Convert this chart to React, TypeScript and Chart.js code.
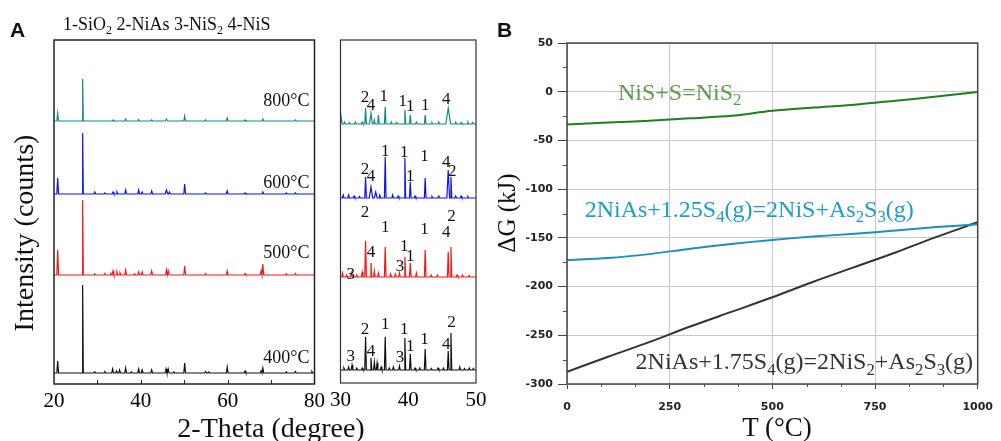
import React, { useEffect, useRef } from "react";
import { Chart, registerables } from "chart.js";

Chart.register(...registerables);

const SERIF = "'Liberation Serif', 'Times New Roman', serif";
const SANS = "'Liberation Sans', Arial, sans-serif";
const TICKFONT = "'DejaVu Sans', Verdana, sans-serif";

// ---------------- Panel A: XRD patterns (2-theta, relative intensity) ----------------
const xrdTemps = ["400°C", "500°C", "600°C", "800°C"];
const xrdColors = ["#111111", "#f01818", "#1010f0", "#168a82"];
// vertical stacking offsets of the patterns (main panel)
const xrdOffsets = [11, 109, 190, 263];
// [2-theta, intensity, half-width?]
const peaks400: number[][] = [
  [20.85, 12], [26.6, 88, 0.15], [29.4, 1], [31.7, 1.5], [33.5, 4], [34.4, 2], [35.1, 3], [36.5, 5],
  [37.8, 1], [39.5, 4], [40.3, 3], [42.5, 3], [45.8, 4], [46.3, 4], [47.6, 1], [50.1, 10],
  [54.9, 1.5], [55.6, 1], [59.9, 6], [64.0, 2], [67.7, 2], [68.1, 5], [73.5, 1], [75.6, 1.5], [79.4, 1.5],
];
const peaks500: number[][] = [
  [20.85, 25], [26.6, 75, 0.15], [29.4, 1], [31.7, 1.5], [33.1, 1.5], [33.6, 4], [34.5, 3], [35.2, 2],
  [36.5, 5], [38.6, 1], [39.5, 3], [40.3, 3], [42.5, 4], [45.9, 5], [46.3, 4], [50.1, 9],
  [54.9, 1.5], [59.9, 4], [64.0, 1.5], [67.7, 4], [68.1, 11], [73.5, 1], [75.6, 1.5],
];
const peaks600: number[][] = [
  [20.85, 16], [26.6, 61, 0.15], [29.4, 2], [31.7, 1], [33.6, 2], [34.5, 2], [36.5, 4], [39.5, 4],
  [40.3, 2], [42.5, 3], [45.9, 4, 0.3], [46.6, 2], [50.1, 10], [54.9, 1], [59.9, 3], [64.0, 1],
  [68.1, 2], [73.5, 1], [75.6, 1],
];
const peaks800: number[][] = [
  [20.85, 8], [26.6, 42, 0.15], [33.6, 1], [36.5, 2], [39.5, 1.5], [42.5, 1], [45.9, 2, 0.3],
  [50.1, 5], [54.9, 1], [59.9, 3], [64.0, 1], [68.1, 2], [75.6, 1],
];
const mainPeaks = [peaks400, peaks500, peaks600, peaks800];

// ---------------- Panel A inset (30-50 degrees) ----------------
const insetOffsets = [13, 106, 185, 259];
const inset400: number[][] = [
  [30.5, 2], [31.2, 3], [31.7, 5], [32.4, 2], [33.2, 2], [33.7, 33], [34.5, 12], [35.0, 8], [35.4, 7],
  [36.0, 3], [36.6, 33], [37.2, 2], [37.8, 3], [38.7, 4], [39.5, 32], [40.3, 16], [41.0, 2], [41.7, 2],
  [42.5, 21], [43.4, 1.5], [44.4, 2], [45.2, 2], [45.9, 19], [46.3, 37], [47.6, 3], [48.3, 1.5], [49.0, 2], [49.6, 1.5],
];
const inset500: number[][] = [
  [30.3, 4], [30.9, 2], [31.6, 4], [32.4, 2], [33.2, 5], [33.7, 36], [34.5, 14], [35.0, 6], [35.6, 4],
  [36.6, 30], [37.4, 3], [38.1, 3], [38.7, 4], [39.5, 20], [40.3, 14], [41.2, 4], [42.5, 27], [43.4, 2],
  [44.3, 2], [45.9, 25], [46.3, 30], [47.2, 2], [48.0, 2], [49.0, 1.5],
];
const inset600: number[][] = [
  [30.4, 3], [31.2, 3], [32.0, 2], [32.8, 1.5], [33.7, 21], [34.5, 11, 0.25], [35.2, 6, 0.2], [35.8, 3],
  [36.6, 41], [37.7, 3], [38.5, 2], [39.5, 40], [40.3, 16], [41.0, 2], [42.5, 20], [43.5, 1.5], [44.5, 2],
  [45.9, 28, 0.2], [46.3, 21], [47.0, 2], [47.8, 2], [48.8, 1.5],
];
const inset800: number[][] = [
  [30.1, 7, 0.15], [30.6, 2], [31.3, 1.5], [32.2, 2], [33.2, 2], [33.7, 16], [34.5, 11, 0.2], [35.0, 4],
  [35.6, 9], [36.6, 17], [37.5, 2], [38.3, 1.5], [39.5, 14], [40.3, 9], [41.2, 2], [42.5, 9], [43.5, 1.5],
  [44.5, 2], [45.9, 16, 0.35], [47.0, 2], [47.8, 1.5], [48.8, 2], [49.5, 1.5],
];
const insetPeaks = [inset400, inset500, inset600, inset800];

// phase index labels above the inset peaks: [label, 2-theta, level]
const phaseLabels400: (string | number)[][] = [
  ["3", 31.5, 26], ["2", 33.6, 53], ["4", 34.5, 31], ["1", 36.6, 58], ["3", 38.8, 25],
  ["1", 39.4, 53], ["1", 40.3, 36], ["1", 42.4, 43], ["4", 45.6, 38], ["2", 46.4, 60],
];
const phaseLabels500: (string | number)[][] = [
  ["3", 31.5, 108], ["2", 33.6, 170], ["4", 34.5, 130], ["1", 36.6, 155], ["3", 38.8, 116],
  ["1", 39.4, 136], ["1", 40.3, 126], ["1", 42.4, 153], ["4", 45.6, 150], ["2", 46.4, 166],
];
const phaseLabels600: (string | number)[][] = [
  ["2", 33.6, 213], ["4", 34.5, 206], ["1", 36.6, 231], ["1", 39.4, 230], ["1", 40.3, 206],
  ["1", 42.4, 226], ["4", 45.6, 220], ["2", 46.5, 211],
];
const phaseLabels800: (string | number)[][] = [
  ["2", 33.6, 285], ["4", 34.5, 277], ["1", 36.4, 286], ["1", 39.2, 281], ["1", 40.3, 276],
  ["1", 42.5, 277], ["4", 45.6, 283],
];
const phaseLabels = [phaseLabels400, phaseLabels500, phaseLabels600, phaseLabels800];
const tempLabelLevels = [26, 131, 201, 283];

// ---------------- Panel B: Delta G vs T ----------------
const tempsB = [0, 100, 200, 300, 400, 500, 600, 700, 800, 900, 1000];
const dgNiS2 = [-33.6, -31.6, -29.8, -27.3, -24.7, -19.6, -16.3, -13.3, -9.2, -5.0, -0.3];
const dgNiS = [-172.9, -170.8, -166.7, -161.1, -156.3, -152.1, -148.6, -145.8, -142.4, -138.9, -136.1];
const dgNiAsToNiS2 = [-287.5, -272, -257, -241, -226, -211, -195, -180, -165, -149, -134];
const reactionNames = ["NiS+S=NiS_2", "2NiAs+1.25S_4(g)=2NiS+As_2S_3(g)", "2NiAs+1.75S_4(g)=2NiS_2+As_2S_3(g)"];
const reactionLineColors = ["#1f7f1f", "#1a8fc4", "#333333"];
const reactionTextColors = ["#5e9a4a", "#1c9cc8", "#333333"];
const reactionAnchorT = [124, 43, 167];
const reactionAnchorG = [-8.5, -128.6, -284.9];

function trace(peaks: number[][], base: number, lo: number, hi: number, w: number) {
  const pts: { x: number; y: number }[] = [{ x: lo, y: base }];
  const sorted = [...peaks].sort((a, b) => a[0] - b[0]);
  for (const pk of sorted) {
    const ww = pk[2] ?? w;
    pts.push({ x: pk[0] - ww, y: base }, { x: pk[0], y: base + pk[1] }, { x: pk[0] + ww, y: base });
  }
  pts.push({ x: hi, y: base });
  return pts;
}

function drawRich(ctx: CanvasRenderingContext2D, text: string, x: number, y: number, size: number, color: string) {
  const parts = text.split(/(_\d)/).filter(Boolean);
  ctx.save();
  ctx.fillStyle = color;
  ctx.textBaseline = "alphabetic";
  ctx.textAlign = "left";
  let cx = x;
  for (const part of parts) {
    const sub = part.startsWith("_");
    const t = sub ? part.slice(1) : part;
    const fs = sub ? size * 0.7 : size;
    ctx.font = `${fs}px ${SERIF}`;
    ctx.fillText(t, cx, y + (sub ? size * 0.22 : 0));
    cx += ctx.measureText(t).width;
  }
  ctx.restore();
}

const frame = (color: string, width: number) => ({
  id: "frame",
  afterDraw(chart: any) {
    const { ctx, chartArea: a } = chart;
    ctx.save();
    ctx.strokeStyle = color;
    ctx.lineWidth = width;
    ctx.strokeRect(a.left, a.top, a.right - a.left, a.bottom - a.top);
    ctx.restore();
  },
});

const mainAPlugin = {
  id: "mainA",
  afterDraw(chart: any) {
    const { ctx, chartArea: a } = chart;
    const xs = chart.scales.x;
    const ys = chart.scales.y;
    ctx.save();
    ctx.strokeStyle = "#222";
    ctx.lineWidth = 1;
    for (let v = 30; v <= 70; v += 10) {
      const px = Math.round(xs.getPixelForValue(v)) + 0.5;
      ctx.beginPath();
      ctx.moveTo(px, a.bottom);
      ctx.lineTo(px, a.bottom - 4);
      ctx.stroke();
    }
    ctx.fillStyle = "#111";
    ctx.font = `18px ${SERIF}`;
    ctx.textAlign = "right";
    ctx.textBaseline = "middle";
    xrdTemps.forEach((t, i) => {
      ctx.fillText(t, xs.getPixelForValue(78.85), ys.getPixelForValue(tempLabelLevels[i]));
    });
    ctx.restore();
  },
};

const insetPlugin = {
  id: "insetA",
  afterDraw(chart: any) {
    const { ctx } = chart;
    const xs = chart.scales.x;
    const ys = chart.scales.y;
    ctx.save();
    ctx.fillStyle = "#111";
    ctx.font = `17px ${SERIF}`;
    ctx.textAlign = "center";
    ctx.textBaseline = "middle";
    phaseLabels.forEach((list) => {
      list.forEach((l) => {
        ctx.fillText(String(l[0]), xs.getPixelForValue(l[1] as number), ys.getPixelForValue(l[2] as number));
      });
    });
    ctx.restore();
  },
};

const bPlugin = {
  id: "panelB",
  afterDraw(chart: any) {
    const { ctx, chartArea: a } = chart;
    const xs = chart.scales.x;
    const ys = chart.scales.y;
    ctx.save();
    ctx.strokeStyle = "#555";
    ctx.lineWidth = 1;
    for (let v = -275; v < 50; v += 50) {
      const py = Math.round(ys.getPixelForValue(v)) + 0.5;
      ctx.beginPath();
      ctx.moveTo(a.left, py);
      ctx.lineTo(a.left - 4, py);
      ctx.stroke();
    }
    for (let k = 1; k < 12; k++) {
      if (k % 3 === 0) continue;
      const px = Math.round(xs.getPixelForValue((k * 1000) / 12)) + 0.5;
      ctx.beginPath();
      ctx.moveTo(px, a.bottom);
      ctx.lineTo(px, a.bottom + 3);
      ctx.stroke();
    }
    ctx.strokeStyle = "#444";
    ctx.lineWidth = 1.5;
    ctx.strokeRect(a.left, a.top, a.right - a.left, a.bottom - a.top);
    ctx.restore();
    reactionNames.forEach((n, i) => {
      drawRich(ctx, n, xs.getPixelForValue(reactionAnchorT[i]), ys.getPixelForValue(reactionAnchorG[i]), 24, reactionTextColors[i]);
    });
  },
};

function useChart(ref: React.RefObject<HTMLCanvasElement>, make: (c: HTMLCanvasElement) => Chart) {
  useEffect(() => {
    if (!ref.current) return;
    const ch = make(ref.current);
    return () => ch.destroy();
  }, []);
}

const plainTick = (v: any) => String(v);

export default function App() {
  const refA = useRef<HTMLCanvasElement>(null);
  const refI = useRef<HTMLCanvasElement>(null);
  const refB = useRef<HTMLCanvasElement>(null);

  useChart(refA, (c) =>
    new Chart(c, {
      type: "line",
      data: {
        datasets: mainPeaks.map((pk, i) => ({
          label: xrdTemps[i],
          data: trace(pk, xrdOffsets[i], 20, 80, 0.2),
          borderColor: xrdColors[i],
          borderWidth: 1.2,
          pointRadius: 0,
          tension: 0,
        })),
      },
      options: {
        animation: false,
        responsive: false,
        devicePixelRatio: 1,
        layout: { padding: { top: 40, right: 15, left: 54, bottom: 0 } },
        plugins: { legend: { display: false }, tooltip: { enabled: false } },
        scales: {
          x: {
            type: "linear",
            min: 20,
            max: 80,
            grid: { display: false, drawTicks: false },
            border: { display: false },
            ticks: { stepSize: 20, font: { family: SERIF, size: 21 }, color: "#000", padding: 5, maxRotation: 0, callback: plainTick },
            afterFit: (s: any) => { s.height = 57; },
          },
          y: { type: "linear", display: false, min: 0, max: 344 },
        },
      },
      plugins: [frame("#222", 1.5), mainAPlugin],
    } as any)
  );

  useChart(refI, (c) =>
    new Chart(c, {
      type: "line",
      data: {
        datasets: insetPeaks.map((pk, i) => ({
          label: xrdTemps[i],
          data: trace(pk, insetOffsets[i], 30, 50, 0.12),
          borderColor: xrdColors[i],
          borderWidth: 1.2,
          pointRadius: 0,
          tension: 0,
        })),
      },
      options: {
        animation: false,
        responsive: false,
        devicePixelRatio: 1,
        layout: { padding: { top: 40, right: 19, left: 15, bottom: 0 } },
        plugins: { legend: { display: false }, tooltip: { enabled: false } },
        scales: {
          x: {
            type: "linear",
            min: 30,
            max: 50,
            grid: { display: false, drawTicks: false },
            border: { display: false },
            ticks: { stepSize: 10, font: { family: SERIF, size: 21 }, color: "#000", padding: 5, maxRotation: 0, callback: plainTick },
            afterFit: (s: any) => { s.height = 58; },
          },
          y: { type: "linear", display: false, min: 0, max: 343 },
        },
      },
      plugins: [frame("#333", 1.2), insetPlugin],
    } as any)
  );

  useChart(refB, (c) =>
    new Chart(c, {
      type: "line",
      data: {
        datasets: [dgNiS2, dgNiS, dgNiAsToNiS2].map((d, i) => ({
          label: reactionNames[i],
          data: d.map((v, k) => ({ x: tempsB[k], y: v })),
          borderColor: reactionLineColors[i],
          borderWidth: 2,
          pointRadius: 0,
          tension: 0.3,
        })),
      },
      options: {
        animation: false,
        responsive: false,
        devicePixelRatio: 1,
        layout: { padding: { top: 43, right: 18, left: 0, bottom: 0 } },
        plugins: { legend: { display: false }, tooltip: { enabled: false } },
        scales: {
          x: {
            type: "linear",
            min: 0,
            max: 1000,
            grid: { color: "#c8c8c8", borderDash: [2, 2], tickColor: "#444", tickLength: 5, tickBorderDash: [] },
            border: { display: false },
            ticks: { stepSize: 250, font: { family: TICKFONT, size: 11, weight: "bold" }, color: "#222", padding: 12, maxRotation: 0, callback: plainTick },
            afterFit: (s: any) => { s.height = 57; },
          },
          y: {
            type: "linear",
            min: -300,
            max: 50,
            grid: { color: "#c8c8c8", borderDash: [2, 2], tickColor: "#444", tickLength: 9, tickBorderDash: [] },
            border: { display: false },
            ticks: { stepSize: 50, font: { family: TICKFONT, size: 11, weight: "bold" }, color: "#222", padding: 5, callback: plainTick },
            afterFit: (s: any) => { s.width = 72; },
          },
        },
      },
      plugins: [bPlugin],
    } as any)
  );

  const txt = { fill: "#111" } as const;
  return (
    <div style={{ position: "fixed", left: 0, top: 0, width: 1001, height: 441, overflow: "hidden", background: "#fff" }}>
      <canvas ref={refA} width={330} height={441} style={{ position: "absolute", left: 0, top: 0, width: 330, height: 441 }} />
      <canvas ref={refI} width={170} height={441} style={{ position: "absolute", left: 325, top: 0, width: 170, height: 441 }} />
      <canvas ref={refB} width={510} height={441} style={{ position: "absolute", left: 495, top: 0, width: 510, height: 441 }} />
      <svg width={1001} height={441} style={{ position: "absolute", left: 0, top: 0, pointerEvents: "none" }}>
        <text x={10} y={37} style={{ fontFamily: SANS, fontWeight: "bold", fontSize: 21 }} {...txt}>A</text>
        <text x={497} y={37} style={{ fontFamily: SANS, fontWeight: "bold", fontSize: 21 }} {...txt}>B</text>
        <text x={63} y={30} style={{ fontFamily: SERIF, fontSize: 18, whiteSpace: "pre" }} {...txt}>
          1-SiO<tspan fontSize={12} dy={4}>2</tspan><tspan dy={-4}>{" 2-NiAs 3-NiS"}</tspan>
          <tspan fontSize={12} dy={4}>2</tspan><tspan dy={-4}>{" 4-NiS"}</tspan>
        </text>
        <text transform="translate(33,233) rotate(-90)" textAnchor="middle" style={{ fontFamily: SERIF, fontSize: 28 }} {...txt}>Intensity (counts)</text>
        <text x={271} y={437} textAnchor="middle" style={{ fontFamily: SERIF, fontSize: 28 }} {...txt}>2-Theta (degree)</text>
        <text transform="translate(515,213) rotate(-90)" textAnchor="middle" style={{ fontFamily: SERIF, fontSize: 25 }} {...txt}>ΔG (kJ)</text>
        <text x={777} y={436} textAnchor="middle" style={{ fontFamily: SERIF, fontSize: 27 }} {...txt}>T (°C)</text>
      </svg>
    </div>
  );
}
